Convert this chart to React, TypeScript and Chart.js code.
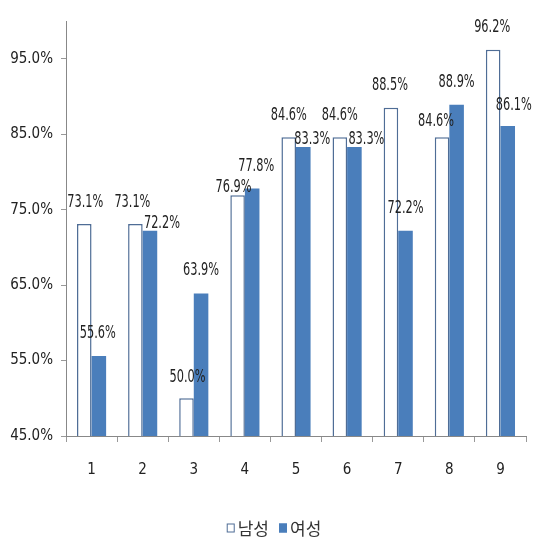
import React, { useEffect, useRef } from "react";
import { Chart, registerables } from "chart.js";

Chart.register(...registerables);

const categories = ["1", "2", "3", "4", "5", "6", "7", "8", "9"];
const maleValues = [73.1, 73.1, 50.0, 76.9, 84.6, 84.6, 88.5, 84.6, 96.2];
const femaleValues = [55.6, 72.2, 63.9, 77.8, 83.3, 83.3, 72.2, 88.9, 86.1];
const yTicks = [45, 55, 65, 75, 85, 95];
const seriesNames = ["남성", "여성"];

// label nudges (px) for labels that the original moved off their default spot
const maleLabelNudge: [number, number][] = [
  [1, 1], [-3, 1], [1, 1], [-4, 14], [0, 0], [0, 0], [-1, 0], [-6, 6], [-1, 0],
];
const femaleLabelNudge: [number, number][] = [
  [-1, 0], [12, 15], [0, -1], [4, 0], [9, 15], [12, 15], [0, 0], [0, 0], [6, 2],
];

const LEGEND_FONT = "'Noto Sans CJK KR', sans-serif";

function fontAvailable(name: string): boolean {
  const c = document.createElement("canvas").getContext("2d");
  if (!c) return false;
  const s = "73.1%95.0%abcWM";
  c.font = "20px monospace";
  const a = c.measureText(s).width;
  c.font = `20px '${name}', monospace`;
  const b = c.measureText(s).width;
  c.font = "20px serif";
  const a2 = c.measureText(s).width;
  c.font = `20px '${name}', serif`;
  const b2 = c.measureText(s).width;
  return a !== b || a2 !== b2;
}

export default function App() {
  const ref = useRef<HTMLCanvasElement | null>(null);
  useEffect(() => {
    if (!ref.current) return;
    const narrow = fontAvailable("Liberation Sans Narrow");
    const condensed = fontAvailable("DejaVu Sans Condensed");
    const FONT = narrow
      ? "'Liberation Sans Narrow', sans-serif"
      : condensed
      ? "'DejaVu Sans Condensed', sans-serif"
      : "'Liberation Sans', sans-serif";
    const tickSize = narrow ? 17 : 15;

    const labelPlugin = {
      id: "barLabels",
      afterDatasetsDraw(chart: any) {
        const ctx = chart.ctx;
        ctx.save();
        ctx.font = `17px ${FONT}`;
        const sx = Math.min(1, 36 / ctx.measureText("73.1%").width);
        ctx.fillStyle = "#222";
        ctx.textAlign = "center";
        ctx.textBaseline = "middle";
        chart.data.datasets.forEach((ds: any, di: number) => {
          const meta = chart.getDatasetMeta(di);
          const nudges = di === 0 ? maleLabelNudge : femaleLabelNudge;
          meta.data.forEach((el: any, i: number) => {
            const v = ds.data[i] as number;
            const [dx, dy] = nudges[i];
            ctx.save();
            ctx.translate(el.x + dx, el.y - 22 + dy);
            ctx.scale(sx, 1);
            ctx.fillText(v.toFixed(1) + "%", 0, 0);
            ctx.restore();
          });
        });
        ctx.restore();
      },
    };

    const legendPlugin = {
      id: "customLegend",
      afterDraw(chart: any) {
        const ctx = chart.ctx;
        ctx.save();
        ctx.font = `17px ${LEGEND_FONT}`;
        ctx.textBaseline = "middle";
        ctx.textAlign = "left";
        const cy = 528;
        const boxW = 8;
        const boxH = 9;
        const gapBoxText = 3;
        const gapItems = 10;
        const items = chart.data.datasets.map((ds: any) => ({
          text: ds.label,
          fill: ds.backgroundColor,
          stroke: ds.borderWidth > 0 ? ds.borderColor : ds.backgroundColor,
          w: boxW + gapBoxText + ctx.measureText(ds.label).width,
        }));
        const total =
          items.reduce((s: number, it: any) => s + it.w, 0) + gapItems * (items.length - 1);
        let x = 274 - total / 2;
        items.forEach((it: any) => {
          ctx.fillStyle = it.fill;
          ctx.fillRect(x, cy - boxH / 2, boxW, boxH);
          ctx.strokeStyle = it.stroke;
          ctx.lineWidth = 1;
          ctx.strokeRect(x + 0.5, cy - boxH / 2 + 0.5, boxW - 1, boxH - 1);
          ctx.fillStyle = "#333";
          ctx.fillText(it.text, x + boxW + gapBoxText, cy + 1);
          x += it.w + gapItems;
        });
        ctx.restore();
      },
    };

    const chart = new Chart(ref.current, {
      type: "bar",
      data: {
        labels: categories,
        datasets: [
          {
            label: seriesNames[0],
            data: maleValues,
            backgroundColor: "#ffffff",
            borderColor: "#4F6D96",
            borderWidth: 1.5,
            categoryPercentage: 0.57,
            barPercentage: 1,
          },
          {
            label: seriesNames[1],
            data: femaleValues,
            backgroundColor: "#4A7EBB",
            borderColor: "#4A7EBB",
            borderWidth: 0,
            categoryPercentage: 0.57,
            barPercentage: 1,
          },
        ],
      },
      options: {
        animation: false,
        responsive: true,
        maintainAspectRatio: false,
        layout: { padding: { top: 21, right: 10, left: 0, bottom: 60 } },
        plugins: {
          tooltip: { enabled: false },
          legend: { display: false },
        },
        scales: {
          x: {
            grid: {
              drawOnChartArea: false,
              drawTicks: true,
              tickLength: 6,
              color: "#999",
              offset: true,
            },
            border: { color: "#888", width: 1 },
            ticks: {
              color: "#222",
              padding: 19,
              font: { family: FONT, size: tickSize },
            },
            afterFit: (scale: any) => {
              scale.height = 50;
            },
          },
          y: {
            min: 45,
            max: 100,
            afterBuildTicks: (scale: any) => {
              scale.ticks = yTicks.map((v) => ({ value: v }));
            },
            grid: {
              drawOnChartArea: false,
              drawTicks: true,
              tickLength: 5,
              color: "#999",
            },
            border: { color: "#888", width: 1 },
            ticks: {
              color: "#222",
              padding: 8,
              font: { family: FONT, size: tickSize },
              callback: (v: any) => Number(v).toFixed(1) + "%",
            },
            afterFit: (scale: any) => {
              scale.width = 66;
            },
          },
        },
      },
      plugins: [labelPlugin, legendPlugin],
    });
    return () => chart.destroy();
  }, []);
  return (
    <div
      style={{ position: "absolute", left: 0, top: 0, width: 536, height: 546, background: "#fff" }}
    >
      <canvas ref={ref} />
    </div>
  );
}
